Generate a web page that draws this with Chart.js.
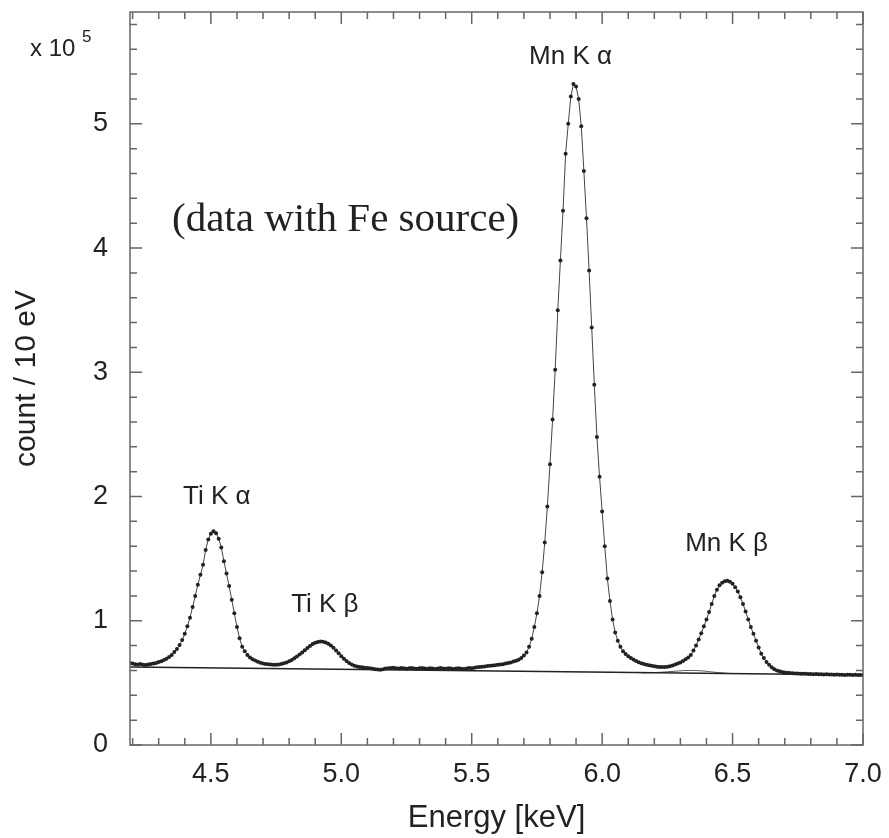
<!DOCTYPE html>
<html>
<head>
<meta charset="utf-8">
<script src="https://cdn.jsdelivr.net/npm/chart.js@4.4.1/dist/chart.umd.min.js"></script>
<style>
  html, body { margin: 0; padding: 0; background: #fff; }
  #wrap { width: 889px; height: 838px; }
</style>
</head>
<body>
<div id="wrap"><canvas id="spectrum"></canvas></div>
<script>
// spectrum, 10 eV bins starting at 4.19 keV, counts in units of 1e5
const binStart = 4.19;
const binWidth = 0.01;
const counts = [
  0.660, 0.655, 0.650, 0.648, 0.652, 0.645, 0.643, 0.648, 0.652, 0.656,
  0.660, 0.668, 0.675, 0.685, 0.695, 0.708, 0.725, 0.748, 0.772, 0.805,
  0.845, 0.895, 0.955, 1.025, 1.110, 1.200, 1.290, 1.370, 1.450, 1.570,
  1.655, 1.700, 1.720, 1.705, 1.660, 1.590, 1.480, 1.380, 1.280, 1.170,
  1.060, 0.950, 0.860, 0.790, 0.755, 0.725, 0.705, 0.690, 0.680, 0.670,
  0.662, 0.656, 0.652, 0.650, 0.648, 0.645, 0.645, 0.648, 0.652, 0.658,
  0.665, 0.675, 0.685, 0.698, 0.712, 0.728, 0.745, 0.762, 0.780, 0.797,
  0.812, 0.823, 0.830, 0.833, 0.832, 0.826, 0.815, 0.800, 0.782, 0.760,
  0.738, 0.715, 0.695, 0.676, 0.660, 0.648, 0.638, 0.632, 0.628, 0.625,
  0.622, 0.620, 0.617, 0.613, 0.610, 0.607, 0.605, 0.610, 0.615, 0.618,
  0.620, 0.622, 0.618, 0.615, 0.620, 0.617, 0.614, 0.618, 0.620, 0.616,
  0.613, 0.617, 0.620, 0.616, 0.614, 0.618, 0.615, 0.612, 0.616, 0.619,
  0.615, 0.613, 0.617, 0.615, 0.612, 0.616, 0.618, 0.614, 0.612, 0.616,
  0.620, 0.618, 0.622, 0.625, 0.627, 0.630, 0.632, 0.635, 0.638, 0.640,
  0.642, 0.645, 0.647, 0.650, 0.655, 0.660, 0.665, 0.672, 0.678, 0.686,
  0.700, 0.720, 0.745, 0.790, 0.855, 0.950, 1.060, 1.200, 1.390, 1.630,
  1.920, 2.260, 2.620, 3.020, 3.500, 3.900, 4.300, 4.760, 5.000, 5.220,
  5.320, 5.300, 5.200, 4.980, 4.620, 4.240, 3.820, 3.360, 2.900, 2.480,
  2.160, 1.880, 1.600, 1.340, 1.160, 1.010, 0.905, 0.840, 0.790, 0.755,
  0.732, 0.715, 0.700, 0.688, 0.677, 0.667, 0.658, 0.652, 0.646, 0.641,
  0.637, 0.633, 0.630, 0.628, 0.627, 0.628, 0.630, 0.634, 0.640, 0.647,
  0.655, 0.665, 0.677, 0.690, 0.705, 0.725, 0.760, 0.800, 0.850, 0.900,
  0.955, 1.010, 1.070, 1.135, 1.200, 1.250, 1.285, 1.305, 1.318, 1.322,
  1.315, 1.297, 1.270, 1.235, 1.190, 1.135, 1.075, 1.010, 0.950, 0.895,
  0.840, 0.785, 0.735, 0.700, 0.668, 0.645, 0.625, 0.610, 0.600, 0.593,
  0.588, 0.584, 0.581, 0.579, 0.577, 0.576, 0.575, 0.574, 0.574, 0.573,
  0.572, 0.572, 0.570, 0.571, 0.569, 0.570, 0.568, 0.569, 0.567, 0.568,
  0.566, 0.567, 0.565, 0.566, 0.564, 0.566, 0.565, 0.563, 0.565, 0.564,
  0.563, 0.564
];

// fitted background (straight line) and small fit component under Mn K-beta
const bgEnergy = [4.19, 7.00];
const bgCounts = [0.628, 0.564];
const compEnergy = [6.15, 6.22, 6.28, 6.33, 6.38, 6.43, 6.50];
const compCounts = [0.580, 0.585, 0.594, 0.600, 0.597, 0.586, 0.574];

const xTickLabels = [4.5, 5.0, 5.5, 6.0, 6.5, 7.0];
const yTickLabels = [0, 1, 2, 3, 4, 5];

// peak labels: [text, energy, count]
const peakLabels = [
  ['Ti K \u03b1', 4.523, 2.0],
  ['Ti K \u03b2', 4.937, 1.13],
  ['Mn K \u03b1', 5.879, 5.54],
  ['Mn K \u03b2', 6.477, 1.62]
];

const spectrum = counts.map((c, i) => ({ x: +(binStart + i * binWidth).toFixed(2), y: c }));
const background = bgEnergy.map((e, i) => ({ x: e, y: bgCounts[i] }));
const component = compEnergy.map((e, i) => ({ x: e, y: compCounts[i] }));

const SANS = '"Liberation Sans", Arial, sans-serif';

const framePlugin = {
  id: 'frame',
  afterDraw(chart) {
    const { ctx, chartArea: a, scales: { x, y } } = chart;
    ctx.save();
    ctx.strokeStyle = '#666';
    ctx.lineWidth = 1.5;
    ctx.strokeRect(a.left, a.top, a.right - a.left, a.bottom - a.top);

    ctx.beginPath();
    for (let k = 42; k <= 70; k++) {
      const px = x.getPixelForValue(k / 10);
      const len = (k % 5 === 0) ? 12 : 7;
      ctx.moveTo(px, a.bottom); ctx.lineTo(px, a.bottom - len);
      ctx.moveTo(px, a.top); ctx.lineTo(px, a.top + len);
    }
    for (let k = 0; k <= 29; k++) {
      const py = y.getPixelForValue(k / 5);
      const len = (k % 5 === 0) ? 12 : 7;
      ctx.moveTo(a.left, py); ctx.lineTo(a.left + len, py);
      ctx.moveTo(a.right, py); ctx.lineTo(a.right - len, py);
    }
    ctx.stroke();

    // exponent
    ctx.fillStyle = '#222';
    ctx.textBaseline = 'alphabetic';
    ctx.textAlign = 'left';
    ctx.font = '24px ' + SANS;
    ctx.fillText('x 10', 30, 56);
    ctx.font = '17px ' + SANS;
    ctx.fillText('5', 82, 42);

    // peak labels
    ctx.font = '26px ' + SANS;
    ctx.textAlign = 'center';
    ctx.textBaseline = 'middle';
    peakLabels.forEach(([t, e, c]) => {
      ctx.fillText(t, x.getPixelForValue(e), y.getPixelForValue(c));
    });

    // note
    ctx.font = '41px "Liberation Serif", "DejaVu Serif", serif';
    ctx.textAlign = 'left';
    ctx.fillText('(data with Fe source)', 172, 220);
    ctx.restore();
  }
};

new Chart(document.getElementById('spectrum'), {
  type: 'scatter',
  data: {
    datasets: [
      {
        label: 'background',
        data: background,
        showLine: true,
        borderColor: '#222',
        borderWidth: 1.5,
        pointRadius: 0
      },
      {
        label: 'component',
        data: component,
        showLine: true,
        borderColor: '#555',
        borderWidth: 1,
        tension: 0.4,
        pointRadius: 0
      },
      {
        label: 'data',
        data: spectrum,
        showLine: true,
        borderColor: '#444',
        borderWidth: 1,
        pointRadius: 2,
        pointBackgroundColor: '#222',
        pointBorderColor: '#222',
        pointBorderWidth: 0
      }
    ]
  },
  options: {
    responsive: true,
    maintainAspectRatio: false,
    animation: false,
    layout: { padding: { top: 12, right: 26, left: 0, bottom: 0 } },
    plugins: {
      legend: { display: false },
      tooltip: { enabled: false }
    },
    scales: {
      x: {
        type: 'linear',
        min: 4.19,
        max: 7.0,
        afterFit: (scale) => {
          scale.height = 93;
          scale.paddingLeft = 0;
          scale.paddingRight = 0;
        },
        afterBuildTicks: (scale) => { scale.ticks = xTickLabels.map(v => ({ value: v })); },
        grid: { display: false, drawTicks: false },
        border: { display: false },
        ticks: {
          padding: 13,
          color: '#222',
          font: { family: SANS, size: 27 },
          maxRotation: 0,
          callback: (v) => Number(v).toFixed(1)
        },
        title: {
          display: true,
          text: 'Energy [keV]',
          color: '#222',
          font: { family: SANS, size: 31 },
          padding: { top: 0, bottom: 1 }
        }
      },
      y: {
        type: 'linear',
        min: 0,
        max: 5.9,
        afterFit: (scale) => {
          scale.width = 130;
          scale.paddingTop = 0;
          scale.paddingBottom = 0;
        },
        afterBuildTicks: (scale) => { scale.ticks = yTickLabels.map(v => ({ value: v })); },
        grid: { display: false, drawTicks: false },
        border: { display: false },
        ticks: {
          padding: 22,
          color: '#222',
          font: { family: SANS, size: 27 },
          callback: (v) => String(v)
        },
        title: {
          display: true,
          text: 'count / 10 eV',
          color: '#222',
          font: { family: SANS, size: 30 },
          padding: { top: 9, bottom: 0 }
        }
      }
    }
  },
  plugins: [framePlugin]
});
</script>
</body>
</html>
